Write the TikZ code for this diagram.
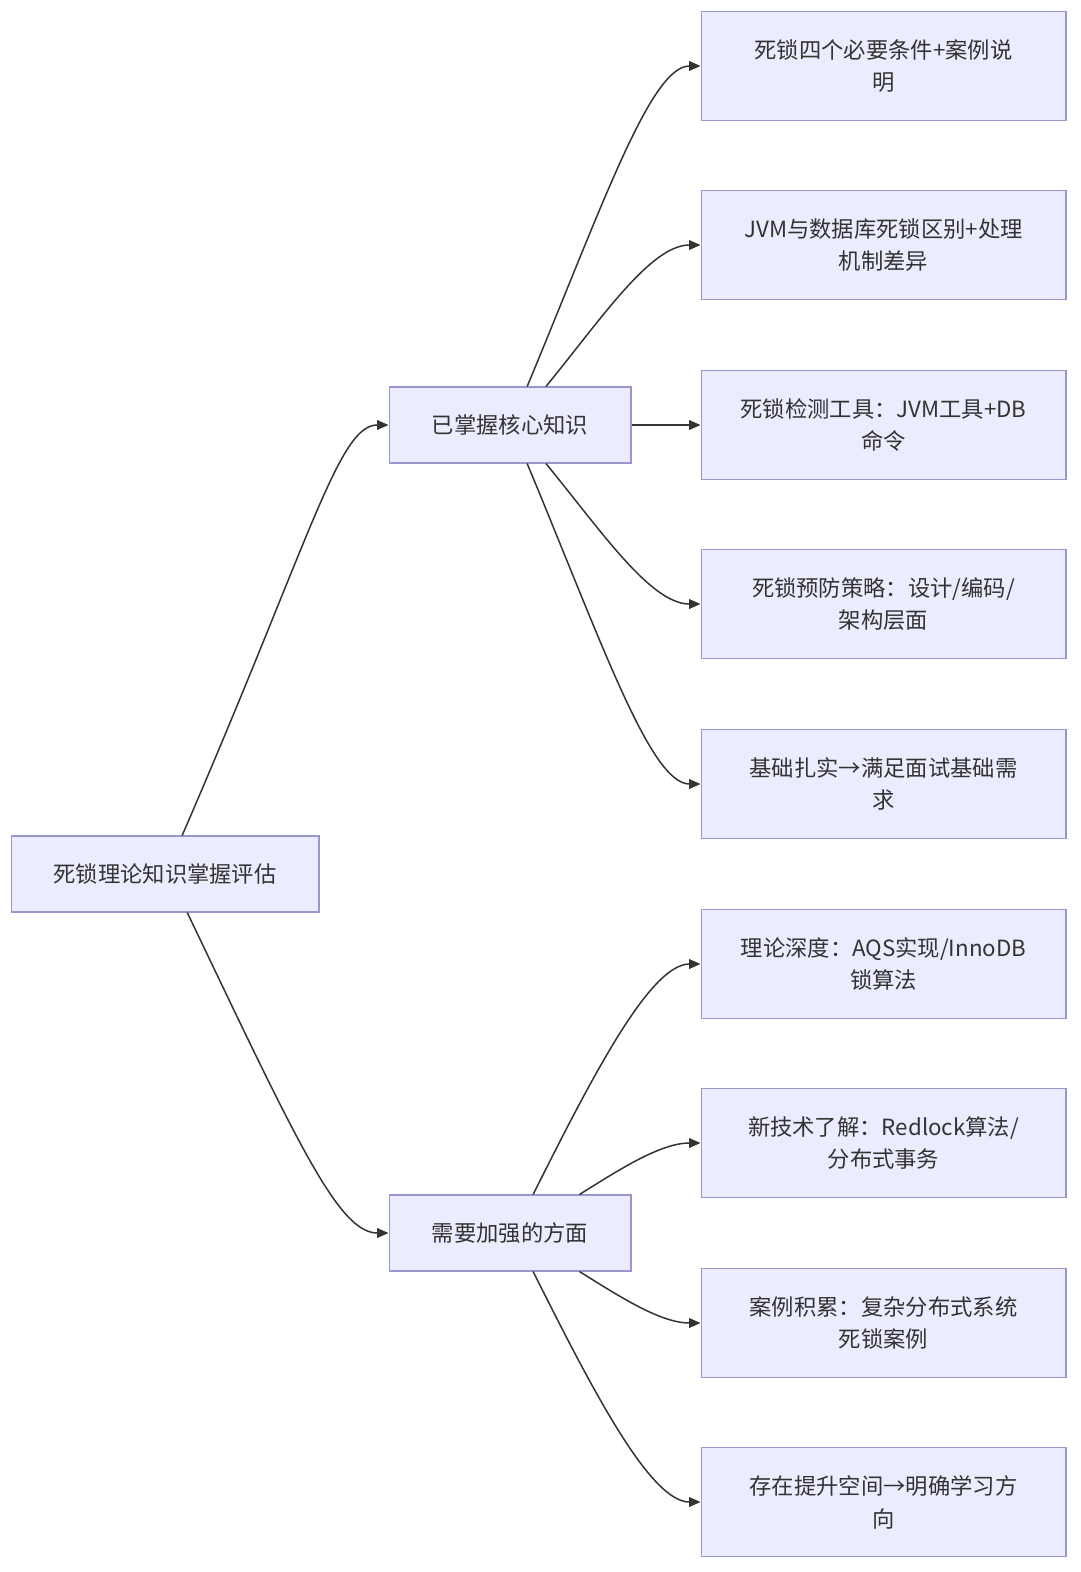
\documentclass[tikz,border=0pt]{standalone}
\usepackage{fontspec}
\setmainfont{Noto Sans CJK SC}
\usepackage{tikz}
\usetikzlibrary{arrows.meta, positioning}

\definecolor{boxfill}{HTML}{ECECFF}
\definecolor{boxline}{HTML}{9A94CF}
\definecolor{ink}{HTML}{333333}

\tikzset{
    box/.style={draw=boxline, fill=boxfill, line width=0.6pt, text=ink, align=center,
        font=\fontsize{12.7pt}{18.7pt}\selectfont, inner sep=0pt},
    midbox/.style={box, minimum width=4.84cm, minimum height=1.52cm},
    leafbox/.style={box, minimum width=7.3cm, minimum height=2.18cm},
    link/.style={draw=ink, line width=0.85pt, -{Triangle[length=6.5pt, width=5.5pt]}}
}

\begin{document}
\begin{tikzpicture}[x=0.02cm, y=-0.02cm]
    \useasboundingbox[fill=white] (0,0) rectangle (1080,1572);

    % Root and the two branches
    \node[box, minimum width=6.16cm, minimum height=1.52cm] (root) at (165,874) {死锁理论知识掌握评估};
    \node[midbox] (known) at (510,425) {已掌握核心知识};
    \node[midbox] (weak) at (510,1233) {需要加强的方面};

    % Leaves
    \node[leafbox] (k1) at (883.5,66) {死锁四个必要条件+案例说\\明};
    \node[leafbox] (k2) at (883.5,245) {JVM与数据库死锁区别+处理\\机制差异};
    \node[leafbox] (k3) at (883.5,425) {死锁检测工具：JVM工具+DB\\命令};
    \node[leafbox] (k4) at (883.5,604) {死锁预防策略：设计/编码/\\架构层面};
    \node[leafbox] (k5) at (883.5,784) {基础扎实→满足面试基础需\\求};
    \node[leafbox] (w1) at (883.5,964) {理论深度：AQS实现/InnoDB\\锁算法};
    \node[leafbox] (w2) at (883.5,1143) {新技术了解：Redlock算法/\\分布式事务};
    \node[leafbox] (w3) at (883.5,1323) {案例积累：复杂分布式系统\\死锁案例};
    \node[leafbox] (w4) at (883.5,1502) {存在提升空间→明确学习方\\向};

    % Root edges
    \draw[link] (root.66) .. controls +(130,-300) and +(-50,0) .. (known.west);
    \draw[link] (root.-60) .. controls +(110,230) and +(-50,0) .. (weak.west);

    % Known edges
    \draw[link] (known.66) .. controls +(75,-180) and +(-50,0) .. (k1.west);
    \draw[link] (known.47) .. controls +(55,-67) and +(-50,0) .. (k2.west);
    \draw[link] (known.east) -- (k3.west);
    \draw[link] (known.-47) .. controls +(55,67) and +(-50,0) .. (k4.west);
    \draw[link] (known.-66) .. controls +(75,180) and +(-50,0) .. (k5.west);

    % Weak edges
    \draw[link] (weak.59) .. controls +(60,-120) and +(-50,0) .. (w1.west);
    \draw[link] (weak.29) .. controls +(40,-25) and +(-40,0) .. (w2.west);
    \draw[link] (weak.-29) .. controls +(40,25) and +(-40,0) .. (w3.west);
    \draw[link] (weak.-59) .. controls +(60,120) and +(-50,0) .. (w4.west);
\end{tikzpicture}
\end{document}
